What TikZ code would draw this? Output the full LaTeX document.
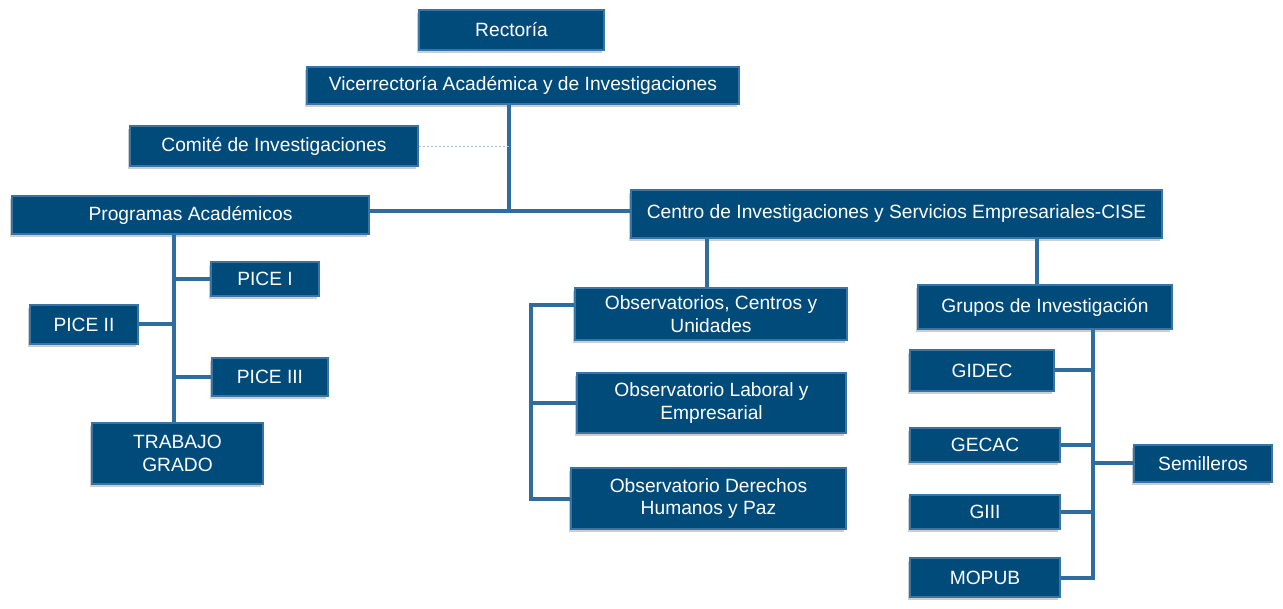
\documentclass[tikz,border=0pt]{standalone}
\usepackage{fontspec}
\setmainfont{Liberation Sans}
\usetikzlibrary{shadows}
\definecolor{boxblue}{HTML}{004B7A}
\definecolor{boxedge}{HTML}{3A74A4}
\definecolor{linkblue}{HTML}{2F6D9F}
\definecolor{dotblue}{HTML}{9CC4DE}
\tikzset{
  orgbox/.style={rectangle, fill=boxblue, draw=boxedge, line width=1.2pt,
    text=white, align=center, inner sep=2pt,
    font=\fontsize{19.2}{22.5}\selectfont,
    drop shadow={shadow xshift=-2pt, shadow yshift=-3pt, opacity=0.35, fill=black!55}},
  link/.style={draw=linkblue, line width=4pt},
  weaklink/.style={draw=dotblue, line width=0.8pt, dashed, dash pattern=on 2pt off 2pt}
}
\begin{document}
\begin{tikzpicture}[x=1pt,y=-1pt]
\useasboundingbox (0,0) rectangle (1283,609);
% boxes
\node[orgbox, minimum width=185, minimum height=40] (rect) at (511.5,30) {Rectoría};
\node[orgbox, minimum width=432, minimum height=37] (vice) at (523,85.5) {Vicerrectoría Académica y de Investigaciones};
\node[orgbox, minimum width=288, minimum height=40] (comite) at (274,146) {Comité de Investigaciones};
\node[orgbox, minimum width=357, minimum height=38] (prog) at (190.5,215) {Programas Académicos};
\node[orgbox, minimum width=531, minimum height=48] (cise) at (896.5,214) {Centro de Investigaciones y Servicios Empresariales-CISE};
\node[orgbox, minimum width=108, minimum height=34] (pice1) at (265,279) {PICE I};
\node[orgbox, minimum width=108, minimum height=39] (pice2) at (84,324.5) {PICE II};
\node[orgbox, minimum width=116, minimum height=38] (pice3) at (270,377) {PICE III};
\node[orgbox, minimum width=171, minimum height=61] (trabajo) at (177.5,453.5) {TRABAJO\\GRADO};
\node[orgbox, minimum width=272, minimum height=52] (obs1) at (711,314) {Observatorios, Centros y\\Unidades};
\node[orgbox, minimum width=269, minimum height=60] (obs2) at (711.5,403) {Observatorio Laboral y\\Empresarial};
\node[orgbox, minimum width=275, minimum height=61] (obs3) at (708.5,498.5) {Observatorio Derechos\\Humanos y Paz};
\node[orgbox, minimum width=254, minimum height=44] (grupos) at (1045,307) {Grupos de Investigación};
\node[orgbox, minimum width=144, minimum height=41] (gidec) at (982,370.5) {GIDEC};
\node[orgbox, minimum width=150, minimum height=34] (gecac) at (985,445) {GECAC};
\node[orgbox, minimum width=150, minimum height=34] (giii) at (985,512) {GIII};
\node[orgbox, minimum width=150, minimum height=39] (mopub) at (985,577.5) {MOPUB};
\node[orgbox, minimum width=138, minimum height=37] (semi) at (1203,463.5) {Semilleros};
% junction coordinates
\coordinate (j1) at (509,211);
\coordinate (pv) at (174,0);
\coordinate (ob) at (531,0);
\coordinate (c1) at (707,0);
\coordinate (c2) at (1037,0);
\coordinate (gv) at (1093,0);
% connectors
\draw[link] (j1 |- vice.south) -- (j1);
\draw[link] (prog.east |- j1) -- (cise.west |- j1);
\draw[weaklink] (comite.east) -- (comite.east -| j1);
\draw[link] (pv |- prog.south) -- (pv |- trabajo.north);
\draw[link] (pice1.west) -- (pice1.west -| pv);
\draw[link] (pice2.east) -- (pice2.east -| pv);
\draw[link] (pice3.west) -- (pice3.west -| pv);
\draw[link] (c1 |- cise.south) -- (c1 |- obs1.north);
\draw[link] ([yshift=9pt]obs1.west) -| (ob |- obs3.west) -- (obs3.west);
\draw[link] (obs2.west) -- (obs2.west -| ob);
\draw[link] (c2 |- cise.south) -- (c2 |- grupos.north);
\draw[link] (gv |- grupos.south) -- (gv |- mopub.east) -- (mopub.east);
\draw[link] (gidec.east) -- (gidec.east -| gv);
\draw[link] (gecac.east) -- (gecac.east -| gv);
\draw[link] (giii.east) -- (giii.east -| gv);
\draw[link] (semi.west) -- (semi.west -| gv);
\end{tikzpicture}
\end{document}
